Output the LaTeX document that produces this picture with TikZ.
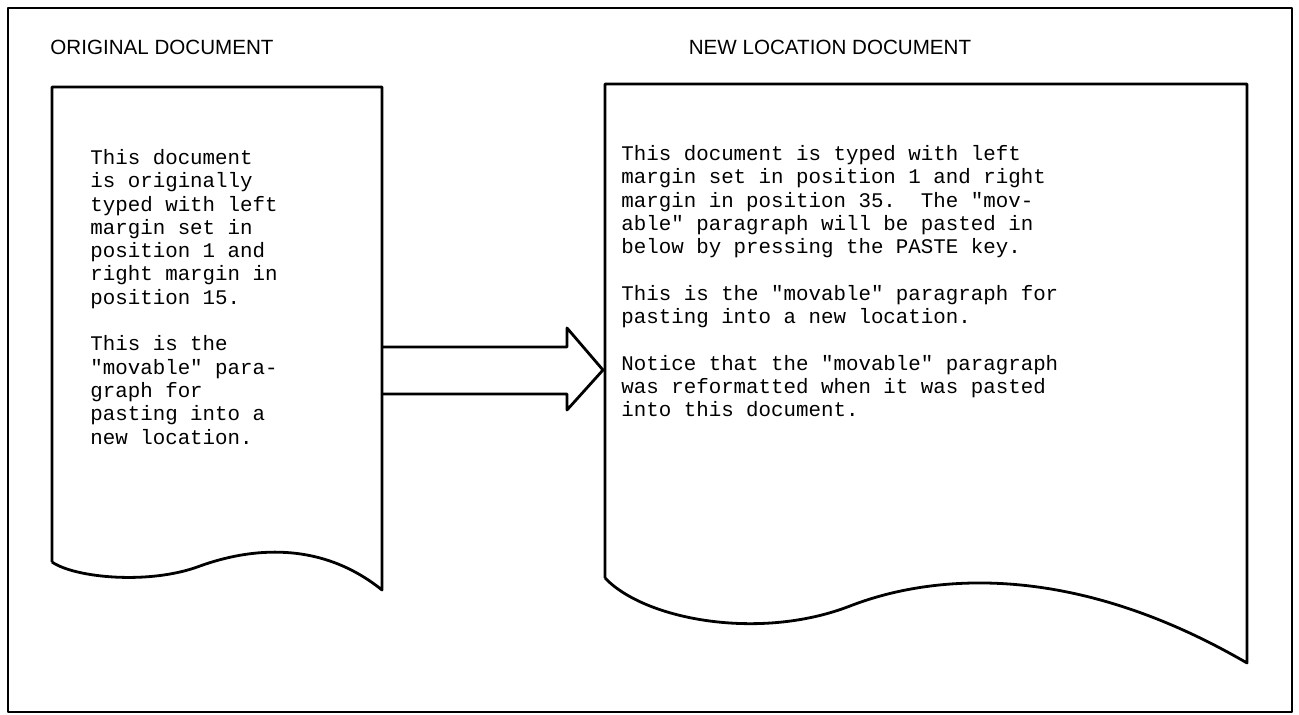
\documentclass[tikz,border=0pt]{standalone}
\usepackage{fontspec}
\newfontfamily\typewriter{Liberation Mono}
\newfontfamily\headfont{Liberation Sans}
\usetikzlibrary{positioning}
\tikzset{
    frameline/.style={line width=1.4pt, line join=round},
    sheetline/.style={line width=1.4pt, line join=round},
    doctext/.style={font=\typewriter\fontsize{10.4}{11.65}\selectfont, align=left, inner sep=0pt, anchor=north west},
    headtext/.style={font=\headfont\fontsize{10.3}{12}\selectfont, inner sep=0pt},
}

\begin{document}
\begin{tikzpicture}[x=0.5pt, y=-0.5pt]
\useasboundingbox (0,0) rectangle (1299,715);

% outer frame
\draw[frameline] (8,8) rectangle (1292,712);

% headings
\node[headtext] (orighead) at (162,47) {ORIGINAL DOCUMENT};
\node[headtext] (newhead) at (830,47) {NEW LOCATION DOCUMENT};

% original document sheet
\coordinate (oTL) at (52,87);
\coordinate (oTR) at (382,87);
\coordinate (oBR) at (382,590);
\coordinate (oBL) at (52,562);
\draw[sheetline] (oBL) -- (oTL) -- (oTR) -- (oBR)
  .. controls (320,540) and (250,548) .. (200,566)
  .. controls (150,585) and (75,578) .. (oBL);

% new location document sheet
\coordinate (nTL) at (605,84);
\coordinate (nTR) at (1247,84);
\coordinate (nBR) at (1247,663);
\coordinate (nBL) at (605,578);
\draw[sheetline] (nBL) -- (nTL) -- (nTR) -- (nBR)
  .. controls (1070,560) and (930,575) .. (850,606)
  .. controls (760,641) and (645,620) .. (nBL);

% block arrow between the sheets
\coordinate (tip) at (603,370);
\draw[sheetline] (383,347) -- (567,347) -- (567,328) -- (tip)
  -- (567,410) -- (567,394) -- (383,394);

% sheet texts
\node[doctext] (origtext) at (90,149) {This document\\
is originally\\
typed with left\\
margin set in\\
position 1 and\\
right margin in\\
position 15.\\[11.65pt]
This is the\\
"movable" para-\\
graph for\\
pasting into a\\
new location.};

\node[doctext] (newtext) at (621,145) {This document is typed with left\\
margin set in position 1 and right\\
margin in position 35.~~The "mov-\\
able" paragraph will be pasted in\\
below by pressing the PASTE key.\\[11.65pt]
This is the "movable" paragraph for\\
pasting into a new location.\\[11.65pt]
Notice that the "movable" paragraph\\
was reformatted when it was pasted\\
into this document.};

\end{tikzpicture}
\end{document}
